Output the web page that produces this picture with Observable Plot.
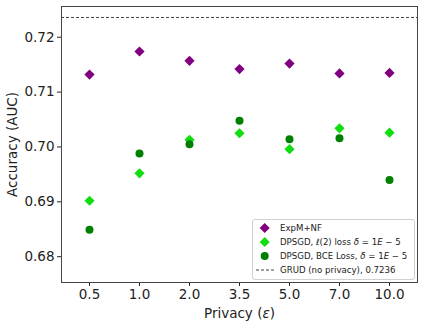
<!DOCTYPE html>
<html>
<head>
<meta charset="utf-8">
<script src="https://cdn.jsdelivr.net/npm/d3@7"></script>
<script src="https://cdn.jsdelivr.net/npm/@observablehq/plot@0.6"></script>
<style>
  html, body { margin: 0; padding: 0; background: white; }
  #wrap { position: relative; width: 423px; height: 327px; font-family: "DejaVu Sans", sans-serif; }
  #legend {
    position: absolute; left: 252px; top: 219px; width: 161px;
    border: 1px solid #d0d0d0; border-radius: 3px; background: rgba(255,255,255,0.85);
    padding: 1px 0 2px 0; font-size: 8.6px; color: #222;
  }
  .row { display: flex; align-items: center; height: 14px; white-space: nowrap; }
  .row svg { flex: none; }
  .m { font-style: italic; }
</style>
</head>
<body>
<div id="wrap"></div>
<script>
// ---- data ----
const epsilons = ["0.5", "1.0", "2.0", "3.5", "5.0", "7.0", "10.0"];
const expmNF   = [0.7132, 0.7174, 0.7157, 0.7142, 0.7152, 0.7134, 0.7135];
const dpsgdL2  = [0.6902, 0.6952, 0.7013, 0.7025, 0.6996, 0.7034, 0.7026];
const dpsgdBCE = [0.6849, 0.6988, 0.7005, 0.7048, 0.7014, 0.7016, 0.6940];
const grudValue = 0.7236;
const yTicks = [0.68, 0.69, 0.70, 0.71, 0.72];
const seriesColors = ["#800080", "#11dd11", "#008000"];

const rows = [];
[expmNF, dpsgdL2, dpsgdBCE].forEach((vals, s) => {
  vals.forEach((v, i) => rows.push({eps: epsilons[i], acc: v, series: s}));
});

const chart = Plot.plot({
  width: 423,
  height: 327,
  marginLeft: 61,
  marginRight: 6,
  marginTop: 6,
  marginBottom: 45,
  style: {fontFamily: "DejaVu Sans, sans-serif", fontSize: "13.5px", background: "white", color: "#222"},
  x: {type: "point", domain: epsilons, padding: 0.5},
  y: {domain: [0.6753, 0.7256]},
  marks: [
    Plot.axisX({tickSize: 4, tickPadding: 3, label: "Privacy (ε)", labelAnchor: "center", labelOffset: 35, labelArrow: "none", fontSize: 13.5}),
    Plot.axisY({ticks: yTicks, tickFormat: d3.format(".2f"), tickSize: 4, tickPadding: 3, label: "Accuracy (AUC)", labelAnchor: "center", labelOffset: 54, labelArrow: "none", fontSize: 13.5}),
    Plot.frame({stroke: "#444", strokeWidth: 1}),
    Plot.ruleY([grudValue], {stroke: "#444", strokeWidth: 1, strokeDasharray: "3,2"}),
    Plot.dot(rows.filter(d => d.series === 0), {x: "eps", y: "acc", symbol: "diamond2", r: 4.6, fill: seriesColors[0], stroke: "none"}),
    Plot.dot(rows.filter(d => d.series === 1), {x: "eps", y: "acc", symbol: "diamond2", r: 4.6, fill: seriesColors[1], stroke: "none"}),
    Plot.dot(rows.filter(d => d.series === 2), {x: "eps", y: "acc", symbol: "circle", r: 4, fill: seriesColors[2], stroke: "none"})
  ]
});

// italicise the epsilon in the x label
d3.select(chart).selectAll("text").each(function () {
  if (this.textContent === "Privacy (ε)") {
    const t = d3.select(this);
    t.text(null);
    t.append("tspan").text("Privacy (");
    t.append("tspan").attr("font-style", "italic").text("ε");
    t.append("tspan").text(")");
  }
});

const wrap = document.getElementById("wrap");
wrap.appendChild(chart);

// ---- legend ----
const legend = document.createElement("div");
legend.id = "legend";
const mk = (inner, label) => {
  const r = document.createElement("div");
  r.className = "row";
  r.innerHTML = `<svg width="27" height="14">${inner}</svg><span>${label}</span>`;
  legend.appendChild(r);
};
mk(`<path d="M11.7,2 L16.7,7 L11.7,12 L6.7,7 Z" fill="${seriesColors[0]}"/>`, "ExpM+NF");
mk(`<path d="M11.7,2 L16.7,7 L11.7,12 L6.7,7 Z" fill="${seriesColors[1]}"/>`, `DPSGD, ℓ(2) loss <span class="m">δ</span> = 1<span class="m">E</span> − 5`);
mk(`<circle cx="11.7" cy="7" r="4" fill="${seriesColors[2]}"/>`, `DPSGD, BCE Loss, <span class="m">δ</span> = 1<span class="m">E</span> − 5`);
mk(`<line x1="3" x2="21" y1="7" y2="7" stroke="#444" stroke-width="1" stroke-dasharray="3,2"/>`, `GRUD (no privacy), ${grudValue}`);
wrap.appendChild(legend);
</script>
</body>
</html>
